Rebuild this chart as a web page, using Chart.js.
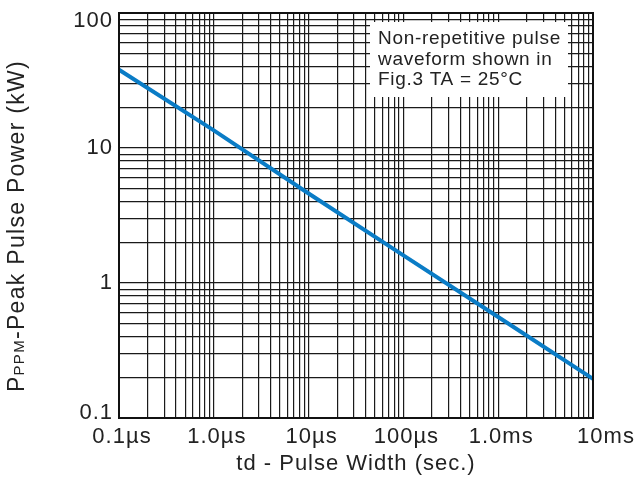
<!DOCTYPE html>
<html>
<head>
<meta charset="utf-8">
<script src="https://cdn.jsdelivr.net/npm/chart.js@4.4.1/dist/chart.umd.min.js"></script>
<style>
  html, body { margin: 0; padding: 0; background: #fff; }
  #wrap { width: 640px; height: 477px; }
</style>
</head>
<body>
<div id="wrap"><canvas id="chart-power"></canvas></div>
<script>
// decades shown on each axis, with their labels
const xDecades = [1e-7, 1e-6, 1e-5, 1e-4, 1e-3, 1e-2];
const xTickLabels = ['0.1µs', '1.0µs', '10µs', '100µs', '1.0ms', '10ms'];
const yDecades = [0.1, 1, 10, 100];
const yTickLabels = ['0.1', '1', '10', '100'];

// curve: td (s) vs peak power (kW)
const pulseWidth = [1e-7, 1e-6, 1e-5, 1e-4, 1e-3, 1e-2];
const peakPower = [38, 13.5, 4.6, 1.6, 0.56, 0.195];

const noteLines = ['Non-repetitive pulse', 'waveform shown in', 'Fig.3 TA = 25°C'];

const FONT = '"Liberation Sans", Arial, sans-serif';
const INK = '#222';

// 1..9 x each decade, for the log grid
function logTicks(decades) {
    const t = [];
    decades.forEach((d, i) => {
        if (i === decades.length - 1) { t.push({ value: d }); return; }
        for (let k = 1; k < 10; k++) t.push({ value: d * k });
    });
    return t;
}

function decadeLabel(value, decades, labels) {
    const i = decades.findIndex(d => Math.abs(value / d - 1) < 1e-6);
    return i >= 0 ? labels[i] : '';
}

const spacing = {
    id: 'spacing',
    beforeUpdate(chart) { chart.ctx.letterSpacing = '1px'; },
    beforeDraw(chart) {
        chart.ctx.letterSpacing = '1px';
        // end labels sit inside the frame like in the original
        const nudge = (scale, label, dx, dy) => {
            scale.getLabelItems(chart.chartArea).forEach(it => {
                if (it.label === label && !it._nudged) {
                    it.options.translation[0] += dx;
                    it.options.translation[1] += dy;
                    it._nudged = true;
                }
            });
        };
        nudge(chart.scales.y, yTickLabels[yTickLabels.length - 1], 0, 8);
        nudge(chart.scales.y, yTickLabels[0], 0, -5);
        nudge(chart.scales.x, xTickLabels[xTickLabels.length - 1], 10, 0);
    }
};

const extras = {
    id: 'extras',
    beforeDatasetsDraw(chart) {
        const { ctx } = chart;
        ctx.save();
        // note box over the grid
        ctx.fillStyle = '#fff';
        ctx.fillRect(370, 22, 198, 75);
        ctx.fillStyle = INK;
        ctx.font = '19px ' + FONT;
        ctx.letterSpacing = '0.7px';
        ctx.textAlign = 'left';
        ctx.textBaseline = 'alphabetic';
        noteLines.forEach((line, i) => ctx.fillText(line, 378, 44 + i * 20.5));
        ctx.restore();
    },
    afterDraw(chart) {
        const { ctx, chartArea: { left, right, top, bottom } } = chart;
        ctx.save();
        // frame
        ctx.strokeStyle = '#111';
        ctx.lineWidth = 2;
        ctx.strokeRect(left, top, right - left, bottom - top);

        // y title with subscript
        const parts = [
            { t: 'P', f: '23px ' + FONT },
            { t: 'PPM', f: '15px ' + FONT },
            { t: '-Peak Pulse Power (kW)', f: '23px ' + FONT }
        ];
        ctx.letterSpacing = '1.3px';
        let total = 0;
        parts.forEach(p => { ctx.font = p.f; p.w = ctx.measureText(p.t).width; total += p.w; });
        ctx.translate(24, 226);
        ctx.rotate(-Math.PI / 2);
        ctx.fillStyle = INK;
        ctx.textAlign = 'left';
        ctx.textBaseline = 'alphabetic';
        let x = -total / 2;
        parts.forEach(p => { ctx.font = p.f; ctx.fillText(p.t, x, 0); x += p.w; });
        ctx.restore();
    }
};

const config = {
    type: 'line',
    data: {
        datasets: [{
            data: pulseWidth.map((x, i) => ({ x: x, y: peakPower[i] })),
            borderColor: '#0a7cc6',
            borderWidth: 4,
            pointRadius: 0,
            tension: 0,
            clip: false
        }]
    },
    options: {
        responsive: true,
        maintainAspectRatio: false,
        animation: false,
        layout: { padding: { left: 73, right: 47, top: 13, bottom: 0 } },
        plugins: { legend: false, tooltip: { enabled: false }, title: false },
        scales: {
            x: {
                type: 'logarithmic',
                min: xDecades[0],
                max: xDecades[xDecades.length - 1],
                afterBuildTicks: scale => { scale.ticks = logTicks(xDecades); },
                afterFit: scale => { scale.height = 59; scale.paddingLeft = 0; scale.paddingRight = 0; },
                grid: { color: '#1a1a1a', lineWidth: 1.2, drawTicks: false },
                border: { color: '#111', width: 2 },
                ticks: {
                    autoSkip: false, maxRotation: 0, minRotation: 0, padding: 6, labelOffset: 3,
                    color: INK, font: { family: FONT, size: 22, lineHeight: 1.2 },
                    callback: v => decadeLabel(v, xDecades, xTickLabels)
                },
                title: {
                    display: true, text: 'td - Pulse Width (sec.)', color: INK,
                    font: { family: FONT, size: 22, lineHeight: 1.2 },
                    padding: { top: 0, bottom: 0 }
                }
            },
            y: {
                type: 'logarithmic',
                min: yDecades[0],
                max: yDecades[yDecades.length - 1],
                afterBuildTicks: scale => { scale.ticks = logTicks(yDecades); },
                afterFit: scale => { scale.width = 46; scale.paddingTop = 0; scale.paddingBottom = 0; },
                grid: { color: '#1a1a1a', lineWidth: 1.2, drawTicks: false },
                border: { color: '#111', width: 2 },
                ticks: {
                    autoSkip: false, padding: 6,
                    color: INK, font: { family: FONT, size: 22, lineHeight: 1.2 },
                    callback: v => decadeLabel(v, yDecades, yTickLabels)
                }
            }
        }
    },
    plugins: [spacing, extras]
};

const powerChart = new Chart('chart-power', config);
</script>
</body>
</html>
